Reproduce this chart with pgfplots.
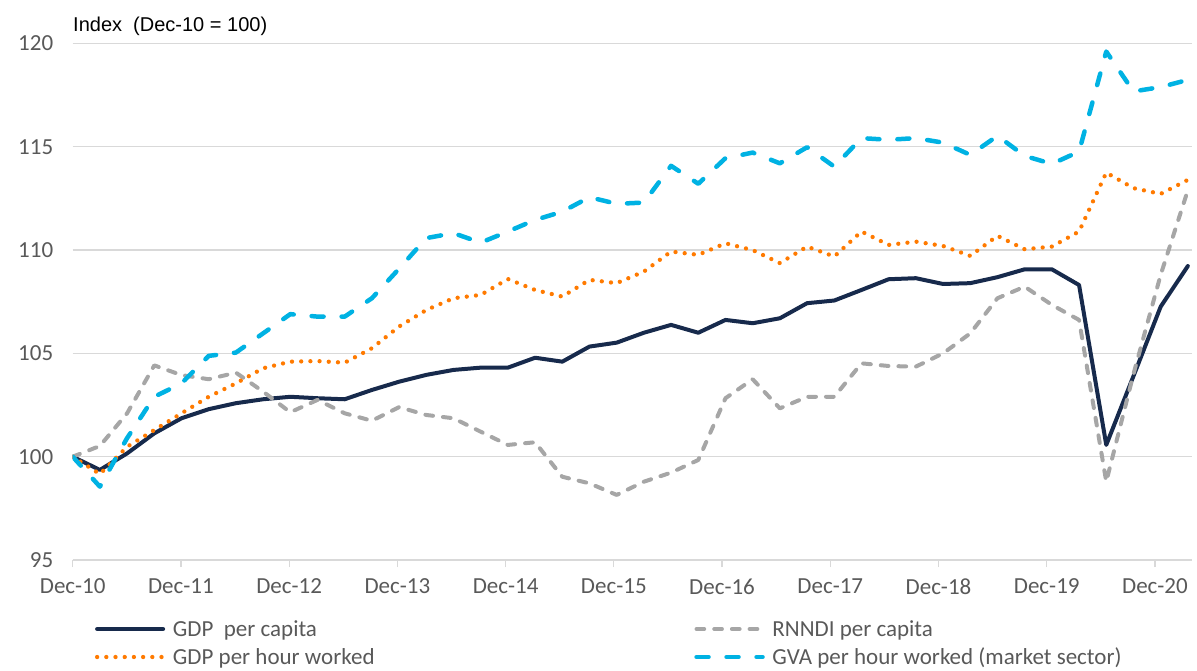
\documentclass[border=0pt]{standalone}
\usepackage{pgfplots}
\pgfplotsset{compat=1.18}
\usepackage{fontspec}
\setmainfont{Liberation Sans}
\newfontfamily\carlito{Carlito}
\definecolor{navy}{HTML}{172A4C}
\definecolor{rgray}{HTML}{A6A6A6}
\definecolor{orng}{HTML}{FF7A00}
\definecolor{cyn}{HTML}{00B2E3}
\definecolor{gridgray}{HTML}{D9D9D9}
\definecolor{tickgray}{HTML}{595959}
\begin{document}
\begin{tikzpicture}
\useasboundingbox (0,0) rectangle (1197pt,670pt);
\begin{axis}[
  at={(72.7pt,110pt)}, anchor=south west,
  scale only axis, width=1119pt, height=516.5pt,
  xmin=0, xmax=41.14, ymin=95, ymax=120,
  xtick={0,3.979,7.958,11.937,15.916,19.895,23.874,27.853,31.832,35.811,39.79},
  xticklabels={Dec-10,Dec-11,Dec-12,Dec-13,Dec-14,Dec-15,Dec-16,Dec-17,Dec-18,Dec-19,Dec-20},
  ytick={95,100,...,120},
  ymajorgrids, grid style={color=gridgray, line width=1.3pt},
  axis line style={draw=none},
  xtick pos=left, tick align=outside, major tick length=7pt,
  xtick style={color=gridgray, line width=1.3pt},
  ytick style={draw=none},
  /pgf/number format/assume math mode=true,
  tick label style={font=\carlito\fontsize{23}{28}\selectfont, text=tickgray},
  yticklabel style={xshift=-9pt},
  xticklabel style={yshift=-8pt},
  legend columns=2,
  legend cell align=left,
  legend image code/.code={\draw[#1] (0pt,0pt) -- (66pt,0pt);},
  legend style={at={(axis description cs:0.0199,-0.1065)}, anchor=north west,
    draw=none, fill=none, inner sep=0pt, outer sep=0pt,
    font=\carlito\fontsize{23}{28}\selectfont, text=tickgray,
    /tikz/every even column/.append style={column sep=312pt},
    row sep=0pt,
    nodes={inner ysep=0pt, inner xsep=7.7pt, text height=21pt, text depth=7pt}},
  every axis plot/.append style={no markers, sharp plot},
]
\addplot[navy, line width=4pt, line join=round, line cap=round] coordinates {
(0,100) (1,99.36) (2,100.16) (3,101.13) (4,101.86) (5,102.3) (6,102.59) (7,102.78)
(8,102.9) (9,102.83) (10,102.78) (11,103.23) (12,103.63) (13,103.96) (14,104.2)
(15,104.31) (16,104.31) (17,104.79) (18,104.6) (19,105.33) (20,105.52) (21,106.0)
(22,106.38) (23,106.0) (24,106.62) (25,106.46) (26,106.7) (27,107.43) (28,107.56)
(29,108.07) (30,108.59) (31,108.64) (32,108.36) (33,108.4) (34,108.69) (35,109.07)
(36,109.07) (37,108.31) (38,100.57) (39,103.9) (40,107.26) (41,109.23)
};
\addlegendentry{GDP\ \ per capita}
\addplot[rgray, line width=4pt, line join=round, line cap=round, dash pattern=on 7.7pt off 10pt] coordinates {
(0,100) (1,100.52) (2,102.1) (3,104.42) (4,103.95) (5,103.75) (6,104.07) (7,103.15)
(8,102.15) (9,102.75) (10,102.1) (11,101.74) (12,102.4) (13,102.02) (14,101.86)
(15,101.21) (16,100.57) (17,100.7) (18,99.03) (19,98.71) (20,98.15) (21,98.79)
(22,99.23) (23,99.84) (24,102.83) (25,103.75) (26,102.34) (27,102.9) (28,102.9)
(29,104.52) (30,104.39) (31,104.36) (32,105.0) (33,105.97) (34,107.67) (35,108.23)
(36,107.35) (37,106.62) (38,98.79) (39,104.0) (40,108.8) (41,112.9)
};
\addlegendentry{RNNDI per capita}
\addplot[orng, line width=4.3pt, line cap=round, dash pattern=on 0pt off 9.2pt] coordinates {
(0,100) (1,99.16) (2,100.48) (3,101.29) (4,102.1) (5,102.9) (6,103.55) (7,104.28)
(8,104.6) (9,104.63) (10,104.55) (11,105.25) (12,106.3) (13,107.1) (14,107.67)
(15,107.83) (16,108.6) (17,108.07) (18,107.75) (19,108.56) (20,108.4) (21,108.96)
(22,109.93) (23,109.77) (24,110.33) (25,110.0) (26,109.37) (27,110.17) (28,109.69)
(29,110.9) (30,110.25) (31,110.41) (32,110.2) (33,109.72) (34,110.69) (35,110.04)
(36,110.17) (37,110.9) (38,113.75) (39,113.0) (40,112.72) (41,113.4)
};
\addlegendentry{GDP per hour worked}
\addplot[cyn, line width=4.5pt, line join=round, line cap=round, dash pattern=on 12pt off 18pt] coordinates {
(0,100) (1,98.55) (2,100.9) (3,102.9) (4,103.55) (5,104.88) (6,105.04) (7,105.97)
(8,106.9) (9,106.78) (10,106.78) (11,107.67) (12,109.1) (13,110.58) (14,110.82)
(15,110.36) (16,110.9) (17,111.46) (18,111.86) (19,112.56) (20,112.24) (21,112.3)
(22,114.08) (23,113.21) (24,114.45) (25,114.72) (26,114.2) (27,114.98) (28,114.04)
(29,115.42) (30,115.34) (31,115.42) (32,115.2) (33,114.61) (34,115.53) (35,114.56)
(36,114.17) (37,114.77) (38,119.61) (39,117.68) (40,117.89) (41,118.24)
};
\addlegendentry{GVA per hour worked (market sector)}
\end{axis}
\node[anchor=base west, inner sep=0pt, font=\fontsize{20}{24}\selectfont] at (73pt,638.3pt) {Index\ \ (Dec-10 = 100)};
\end{tikzpicture}
\end{document}
